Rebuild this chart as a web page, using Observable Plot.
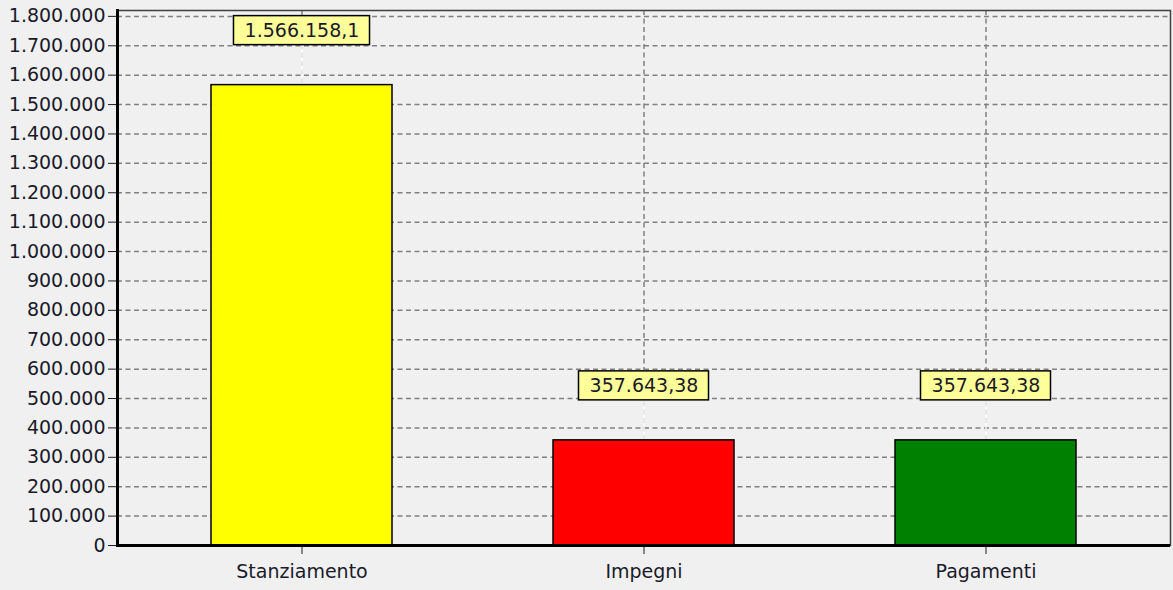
<!DOCTYPE html>
<html><head><meta charset="utf-8">
<script src="https://cdn.jsdelivr.net/npm/d3@7"></script>
<script src="https://cdn.jsdelivr.net/npm/@observablehq/plot@0.6"></script>
<style>
html,body{margin:0;padding:0;background:#f0f0f0;}
</style>
</head><body><div id="chart"></div>
<script>
const categories = ["Stanziamento", "Impegni", "Pagamenti"];
const values = [1566158.1, 357643.38, 357643.38];
const valueLabels = ["1.566.158,1", "357.643,38", "357.643,38"];
const barColors = ["#ffff00", "#ff0000", "#008000"];
const yTicks = [0, 100000, 200000, 300000, 400000, 500000, 600000, 700000, 800000, 900000,
  1000000, 1100000, 1200000, 1300000, 1400000, 1500000, 1600000, 1700000, 1800000];

const data = categories.map((c, i) => ({cat: c, value: values[i], label: valueLabels[i], color: barColors[i]}));

const fmt = d3.formatLocale({decimal: ",", thousands: ".", grouping: [3], currency: ["", "€"]}).format(",d");

const W = 1173, H = 590, mL = 117, mR = 3, mT = 10, mB = 45;
const padIn = 0.47, padOut = 0.27;
const FONT = "DejaVu Sans";
const FS = 19;

// measure label widths for the boxes
const ctx = document.createElement("canvas").getContext("2d");
ctx.font = `${FS}px "${FONT}"`;
const bw = d3.scaleBand(categories, [mL, W - mR]).paddingInner(padIn).paddingOuter(padOut).bandwidth();
const boxMarks = data.map(d => {
  const w = ctx.measureText(d.label).width + 22;
  const ins = (bw - w) / 2;
  return Plot.barY([d], {x: "cat", y1: "value", y2: "value", insetTop: -69, insetBottom: 40,
    insetLeft: ins, insetRight: ins, fill: "#ffff99", stroke: "#000", strokeWidth: 1.5});
});

const chart = Plot.plot({
  width: W, height: H,
  marginLeft: mL, marginRight: mR, marginTop: mT, marginBottom: mB,
  style: {background: "#f0f0f0", fontFamily: FONT, fontSize: FS + "px", color: "#1a1a2a"},
  x: {domain: categories, paddingInner: padIn, paddingOuter: padOut, label: null},
  y: {domain: [0, 1820000], label: null},
  marks: [
    Plot.ruleY(yTicks.filter(d => d > 0), {stroke: "#808080", strokeWidth: 1.5, strokeDasharray: "5,3.5"}),
    Plot.ruleX(categories, {stroke: "#808080", strokeWidth: 1.5, strokeDasharray: "5,3.5"}),
    Plot.frame({stroke: "#404040", strokeWidth: 1.5}),
    Plot.ruleX(data, {x: "cat", y1: "value", y2: "value", insetBottom: 40, stroke: "#ffffff", strokeWidth: 1.5}),
    Plot.barY(data, {x: "cat", y: "value", fill: "color", stroke: "#000", strokeWidth: 1.5}),
    ...boxMarks,
    Plot.text(data, {x: "cat", y: "value", text: "label", dy: -54, fontSize: FS, fill: "#1a1a2a", lineAnchor: "middle"}),
    Plot.axisY({ticks: yTicks, tickFormat: fmt, tickSize: 9, tickPadding: 3, fontSize: FS, label: null}),
    Plot.axisX({tickSize: 9, tickPadding: 10, fontSize: FS, label: null}),
    Plot.frame({anchor: "left", stroke: "#000", strokeWidth: 3}),
    Plot.ruleY([0], {stroke: "#000", strokeWidth: 3})
  ]
});
document.getElementById("chart").appendChild(chart);
</script>
</body></html>
